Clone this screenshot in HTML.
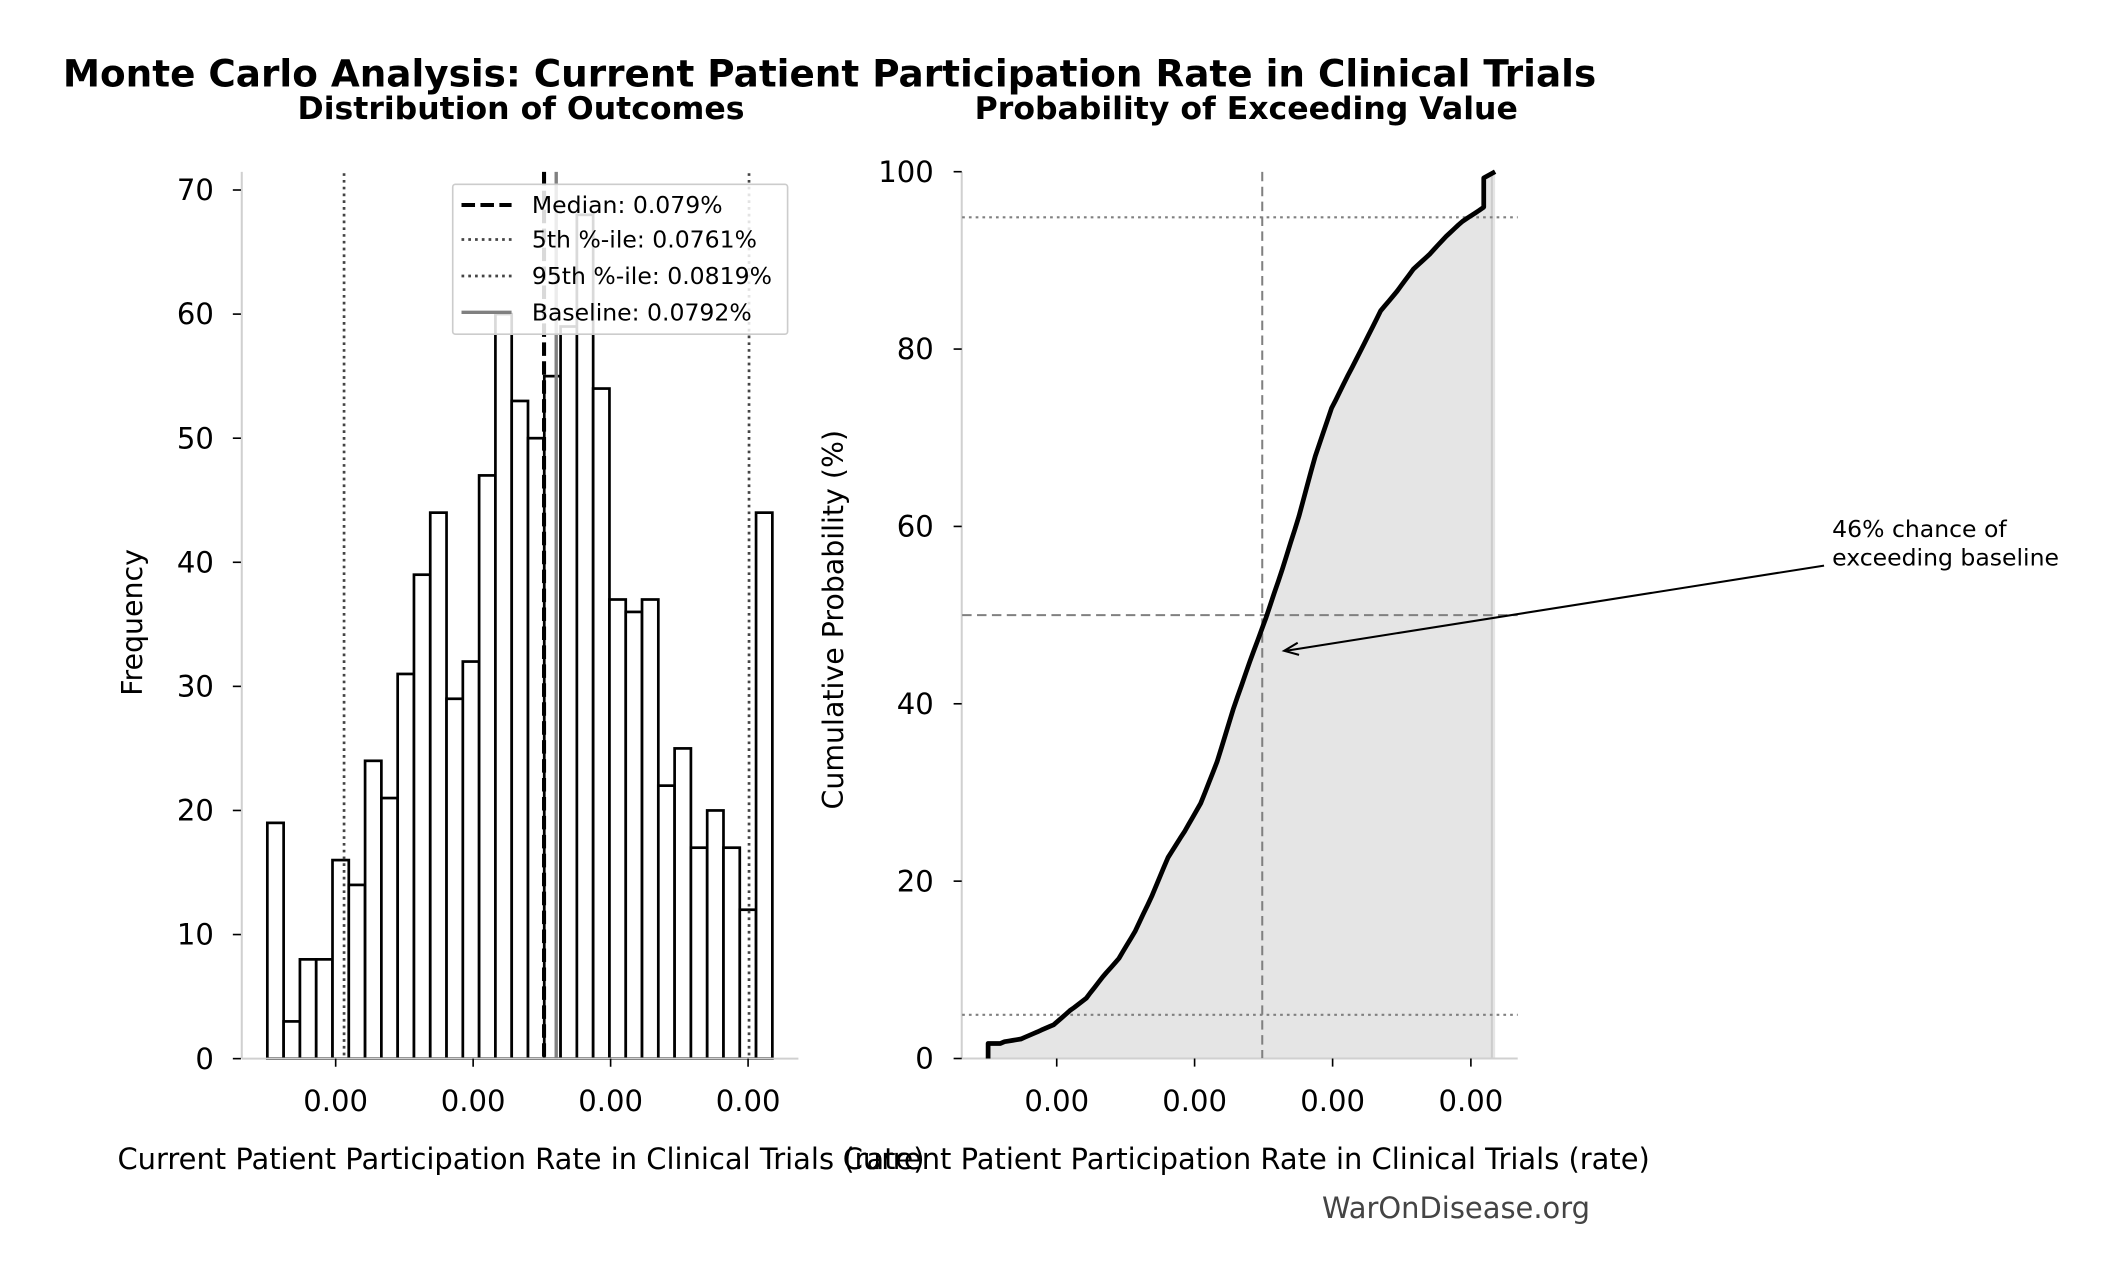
<!DOCTYPE html>
<html><head><meta charset="utf-8"><style>
html,body{margin:0;padding:0;background:#fff}
svg{display:block;font-family:"DejaVu Sans","Liberation Sans",sans-serif}
</style></head><body>
<svg id="s" width="2111" height="1280" viewBox="0 0 1560 946" xmlns="http://www.w3.org/2000/svg">
<rect width="1560" height="946" fill="#fff"/>
<text x="613" y="64" font-size="27.6" font-weight="bold" text-anchor="middle">Monte Carlo Analysis: Current Patient Participation Rate in Clinical Trials</text>
<text x="385" y="88" font-size="23.3" font-weight="bold" text-anchor="middle">Distribution of Outcomes</text>
<text x="921" y="88" font-size="23.3" font-weight="bold" text-anchor="middle">Probability of Exceeding Value</text>

<!-- left axes -->
<g id="bars" fill="#fff" stroke="#000" stroke-width="2"></g>
<line x1="178.6" y1="127" x2="178.6" y2="782.4" stroke="#d0d0d0" stroke-width="1.5"/>
<line x1="178.6" y1="782.4" x2="590" y2="782.4" stroke="#d0d0d0" stroke-width="1.5"/>
<g id="lt" font-size="21.5" text-anchor="end"></g>
<line x1="254.2" y1="128" x2="254.2" y2="782" stroke="#444" stroke-width="2" stroke-dasharray="2,3"/>
<line x1="553.5" y1="128" x2="553.5" y2="782" stroke="#444" stroke-width="2" stroke-dasharray="2,3"/>
<line x1="402" y1="127" x2="402" y2="782" stroke="#000" stroke-width="3" stroke-dasharray="10,4"/>
<line x1="411" y1="127" x2="411" y2="782" stroke="#808080" stroke-width="2.5"/>
<rect x="334.5" y="136.2" width="247.5" height="110.8" fill="#fff" fill-opacity="0.85" stroke="#ccc" stroke-width="1.2" rx="2"/>
<line x1="341" y1="151.5" x2="378" y2="151.5" stroke="#000" stroke-width="3" stroke-dasharray="10,4"/>
<line x1="341" y1="177" x2="378" y2="177" stroke="#444" stroke-width="2" stroke-dasharray="2,3"/>
<line x1="341" y1="204" x2="378" y2="204" stroke="#444" stroke-width="2" stroke-dasharray="2,3"/>
<line x1="341" y1="230.8" x2="378" y2="230.8" stroke="#808080" stroke-width="2.5"/>
<g font-size="17.4">
<text x="393" y="157.5">Median: 0.079%</text>
<text x="393" y="183">5th %-ile: 0.0761%</text>
<text x="393" y="210">95th %-ile: 0.0819%</text>
<text x="393" y="237">Baseline: 0.0792%</text>
</g>
<text transform="translate(105,460) rotate(-90)" font-size="21" text-anchor="middle">Frequency</text>
<text x="385" y="864" font-size="21.4" text-anchor="middle">Current Patient Participation Rate in Clinical Trials (rate)</text>

<!-- right axes -->
<path id="fill" fill="#e5e5e5"/>
<line x1="1102.5" y1="128" x2="1102.5" y2="782" stroke="#ccc" stroke-width="1.5"/>
<line x1="710.7" y1="127" x2="710.7" y2="782.3" stroke="#d0d0d0" stroke-width="1.5"/>
<line x1="710.7" y1="782.3" x2="1121.6" y2="782.3" stroke="#d0d0d0" stroke-width="1.5"/>
<line x1="711" y1="160.6" x2="1121.6" y2="160.6" stroke="#808080" stroke-width="1.5" stroke-dasharray="2,3"/>
<line x1="711" y1="750" x2="1121.6" y2="750" stroke="#808080" stroke-width="1.5" stroke-dasharray="2,3"/>
<line x1="711" y1="454.6" x2="1121.6" y2="454.6" stroke="#808080" stroke-width="1.5" stroke-dasharray="7,4"/>
<line x1="932.8" y1="127" x2="932.8" y2="782" stroke="#808080" stroke-width="1.5" stroke-dasharray="7,4"/>
<path id="curve" fill="none" stroke="#000" stroke-width="3.5" stroke-linejoin="round"/>
<g id="rt" font-size="21.5" text-anchor="end"></g>
<line x1="1348" y1="418" x2="950" y2="481" stroke="#000" stroke-width="1.5"/>
<path d="M959,475 L949,481 L960,484" fill="none" stroke="#000" stroke-width="1.5"/>
<text x="1354" y="397" font-size="17.4">46% chance of</text>
<text x="1354" y="418" font-size="17.4">exceeding baseline</text>
<text transform="translate(623,458) rotate(-90)" font-size="21" text-anchor="middle">Cumulative Probability (%)</text>
<text x="921" y="864" font-size="21.4" text-anchor="middle">Current Patient Participation Rate in Clinical Trials (rate)</text>
<text x="1076" y="900" font-size="21.4" text-anchor="middle" fill="#444">WarOnDisease.org</text>
</svg>
<script>
var NS="http://www.w3.org/2000/svg";
function el(p,t,a,txt){var e=document.createElementNS(NS,t);for(var k in a)e.setAttribute(k,a[k]);if(txt!=null)e.textContent=txt;p.appendChild(e);return e;}
var h=[19,3,8,8,16,14,24,21,31,39,44,29,32,47,60,53,50,55,59,68,54,37,36,37,22,25,17,20,17,12,44];
var Y0=782.4,LS=9.171;
var x0=197.5,w=12.04,bars=document.getElementById('bars');
h.forEach(function(v,i){el(bars,'rect',{x:x0+i*w,y:Y0-v*LS,width:w,height:v*LS});});
var lt=document.getElementById('lt');
for(var v=0;v<=70;v+=10){var y=Y0-v*LS;el(lt,'line',{x1:172,y1:y,x2:178,y2:y,stroke:'#000','stroke-width':1.2});el(lt,'text',{x:158,y:y+7.5},v);}
[248,349.6,451.2,552.8].forEach(function(x){el(lt,'line',{x1:x,y1:Y0,x2:x,y2:Y0+6,stroke:'#000','stroke-width':1.2});el(lt,'text',{x:x,y:821,'text-anchor':'middle'},'0.00');});
var rt=document.getElementById('rt');
var R0=782.3,RS=6.554;
for(var v=0;v<=100;v+=20){var y=R0-v*RS;el(rt,'line',{x1:704.7,y1:y,x2:710.7,y2:y,stroke:'#000','stroke-width':1.2});el(rt,'text',{x:690,y:y+7.5},v);}
[780.9,882.8,984.8,1087].forEach(function(x){el(rt,'line',{x1:x,y1:R0,x2:x,y2:R0+6,stroke:'#000','stroke-width':1.2});el(rt,'text',{x:x,y:821,'text-anchor':'middle'},'0.00');});
var tot=h.reduce(function(a,b){return a+b},0);
function rx(lx){return 780.9+(lx-248)*1.004;}
function ry(p){return R0-p*RS;}
var pts=[[rx(x0),ry(1.7)]],c=0;
for(var i=0;i<h.length;i++){
  var steps=(i==h.length-1)?1:4;
  for(var s=1;s<=steps;s++){
    var cc=c+h[i]*s/steps;var p=Math.max(1.7,cc/tot*100);
    if(i==h.length-1){pts.push([rx(x0+i*w+w*0.3),ry(96)]);pts.push([rx(x0+i*w+w*0.3),ry(99.3)]);pts.push([rx(x0+(i+1)*w),ry(100)]);}
    else pts.push([rx(x0+i*w+w*s/steps),ry(p)]);
  }
  c+=h[i];
}
var d='M'+rx(x0)+','+ry(0)+' L'+pts.map(function(p){return p[0].toFixed(1)+','+p[1].toFixed(1)}).join(' L');
document.getElementById('curve').setAttribute('d',d);
var last=pts[pts.length-1];
document.getElementById('fill').setAttribute('d',d+' L'+last[0]+','+ry(0)+' Z');
</script>
</body></html>
